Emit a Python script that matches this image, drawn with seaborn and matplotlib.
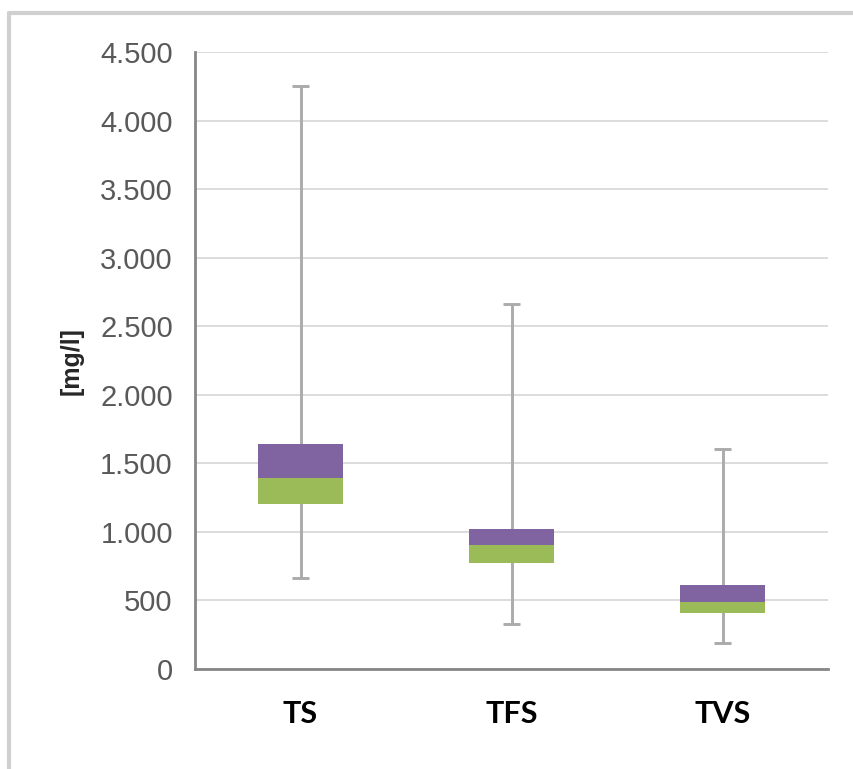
import matplotlib
matplotlib.use("Agg")
import matplotlib.pyplot as plt
from matplotlib.lines import Line2D
from matplotlib.ticker import FuncFormatter
import seaborn as sns
import pandas as pd

# Summary statistics per parameter (mg/l)
categories = ["TS", "TFS", "TVS"]
minimum = [665, 326, 192]
q1 = [1203, 776, 406]
median = [1393, 904, 491]
q3 = [1641, 1021, 613]
maximum = [4252, 2662, 1605]

yticks = [0, 500, 1000, 1500, 2000, 2500, 3000, 3500, 4000, 4500]

df = pd.DataFrame({
    "cat": categories,
    "lower": [m - a for m, a in zip(median, q1)],
    "upper": [b - m for b, m in zip(q3, median)],
    "q1": q1,
    "median": median,
})

sns.set_theme(style="white")

fig = plt.figure(figsize=(8.54, 7.69), dpi=100)
ax = fig.add_axes([195 / 854, 1 - 669 / 769, 633 / 854, 617 / 769])

green = "#9BBB59"
purple = "#8064A2"
whisker = "#ABABAB"

# whiskers behind the boxes
pos = list(range(len(categories)))
ax.vlines(pos, minimum, maximum, color=whisker, lw=2.1, zorder=2)
cap = 0.042
ax.hlines(minimum, [p - cap for p in pos], [p + cap for p in pos], color=whisker, lw=2.1, zorder=2)
ax.hlines(maximum, [p - cap for p in pos], [p + cap for p in pos], color=whisker, lw=2.1, zorder=2)

# lower box (Q1 -> median) and upper box (median -> Q3)
sns.barplot(data=df, x="cat", y="lower", bottom=df["q1"], color=green,
            saturation=1, width=0.4, ax=ax, zorder=3, linewidth=0)
sns.barplot(data=df, x="cat", y="upper", bottom=df["median"], color=purple,
            saturation=1, width=0.4, ax=ax, zorder=3, linewidth=0)

ax.set_ylim(0, 4500)
ax.set_xlim(-0.5, 2.5)
ax.set_yticks(yticks)
ax.yaxis.set_major_formatter(FuncFormatter(lambda v, _: f"{int(v):,}".replace(",", ".")))
ax.grid(axis="y", color="#D9D9D9", lw=1.3, zorder=0)
ax.grid(axis="x", visible=False)
ax.set_axisbelow(True)

for s in ["top", "right"]:
    ax.spines[s].set_visible(False)
for s in ["left", "bottom"]:
    ax.spines[s].set_color("#868686")
    ax.spines[s].set_linewidth(2)

ax.tick_params(axis="y", length=0, pad=16, labelsize=21, labelcolor="#595959")
ax.tick_params(axis="x", length=0, pad=22)
for t in ax.get_yticklabels():
    t.set_fontfamily("Liberation Sans")
for t in ax.get_xticklabels():
    t.set_fontfamily("Lato")
    t.set_fontweight("bold")
    t.set_fontsize(22)
    t.set_color("#000000")

ax.set_xlabel("")
ax.set_ylabel("")
fig.text(72 / 854, 1 - 361 / 769, "[mg/l]", rotation=90, ha="center", va="center",
         fontsize=18, fontweight="bold", family="Liberation Sans", color="#262626")

# chart area border
fig.add_artist(Line2D([9 / 854, 1], [1 - 13 / 769, 1 - 13 / 769], color="#D0D0D0", lw=3,
                      transform=fig.transFigure))
fig.add_artist(Line2D([9 / 854, 9 / 854], [0, 1 - 13 / 769], color="#D0D0D0", lw=3,
                      transform=fig.transFigure))

fig.savefig("out.png", dpi=100)
